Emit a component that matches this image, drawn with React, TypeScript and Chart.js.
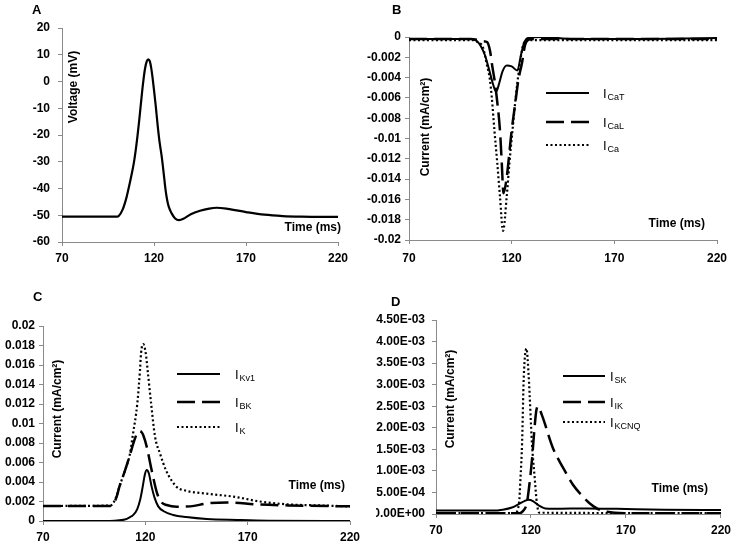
import React, { useEffect, useRef } from "react";
import { Chart, registerables } from "chart.js";

Chart.register(...registerables);

const FONT = '"Liberation Sans", Arial, Helvetica, sans-serif';
const PAGE_W = 736;
const PAGE_H = 544;

// ---------------- data ----------------
// shared time axis
const xMin = 70;
const xMax = 220;
const xStep = 50;

// Panel A: membrane voltage (mV)
const timeV = [70, 100, 100.8, 103, 105, 106, 107, 108, 109, 110, 111, 112, 113, 114, 115, 116, 116.9, 117.7, 118.5, 119.3, 120, 121, 122, 123, 124.2, 125.3, 126.3, 127.2, 128, 129.6, 131.5, 133.6, 136, 140, 145, 150, 154, 160, 170, 180, 190, 200, 220];
const voltage = [-50.5, -50.5, -50.3, -47.8, -43.5, -40.6, -37.5, -34.2, -30.6, -26, -20.5, -14.3, -7.5, -1, 4.3, 7.4, 8.3, 7.6, 5, 1, -3.2, -9.5, -16.5, -22.5, -28.1, -34.5, -40.6, -44.5, -46.8, -49.3, -51.2, -51.8, -51.3, -49.6, -48.3, -47.5, -47.2, -47.6, -48.8, -49.8, -50.3, -50.5, -50.6];

// Panel B: calcium currents (mA/cm2)
const timeCaT = [70, 100, 103, 105, 107, 109, 111, 112.4, 114, 115.5, 117.6, 120, 122.8, 124.5, 126, 128, 135, 150, 170, 220];
const iCaT = [-0.0002, -0.0002, -0.0004, -0.0009, -0.0018, -0.0032, -0.0047, -0.0054, -0.0045, -0.0034, -0.0028, -0.0029, -0.0033, -0.0018, -0.0006, -0.0001, 0, -0.0002, -0.0002, -0.0001];
const timeCaL = [70, 100, 104, 106, 108, 109.5, 110.5, 112, 112.7, 114.3, 115.2, 116, 117.6, 120, 121.7, 123.3, 125, 126.5, 128, 130, 220];
const iCaL = [-0.0002, -0.0002, -0.0003, -0.0004, -0.0005, -0.0014, -0.0028, -0.0047, -0.0059, -0.0092, -0.0125, -0.0154, -0.0138, -0.0092, -0.0066, -0.0042, -0.0026, -0.0008, -0.0003, -0.0002, -0.0002];
const timeCa = [70, 101.4, 104, 105.9, 107.8, 109.4, 110.3, 111.6, 113, 114.3, 115.8, 117.6, 118.9, 120.4, 122, 124, 125.4, 127.3, 220];
const iCa = [-0.0003, -0.0003, -0.0006, -0.00095, -0.0026, -0.0042, -0.0059, -0.0092, -0.01245, -0.0157, -0.0191, -0.0157, -0.01245, -0.0092, -0.0059, -0.0026, -0.00095, -0.0003, -0.0003];

// Panel C: potassium currents (mA/cm2)
const timeKv1 = [70, 100, 105, 110, 112.5, 114, 116, 117.5, 118.7, 119.8, 120.7, 121.7, 123.1, 124.5, 126.3, 129, 133.6, 140, 150, 165, 180, 220];
const iKv1 = [0, 0, 0.00003, 0.00015, 0.0004, 0.0006, 0.0012, 0.0022, 0.0035, 0.0048, 0.00523, 0.0049, 0.0035, 0.0024, 0.0015, 0.001, 0.00062, 0.0004, 0.0002, 0.0001, 0.00003, 0];
const timeBK = [70, 103, 104.5, 106, 107.3, 110.1, 112.5, 114.5, 116, 117, 118.2, 119, 120.7, 123.1, 125.8, 128, 130.4, 135.3, 142, 150, 160, 175, 190, 220];
const iBK = [0.00154, 0.00155, 0.0018, 0.0025, 0.0035, 0.0052, 0.0068, 0.0082, 0.009, 0.00923, 0.0091, 0.0088, 0.0076, 0.0052, 0.0028, 0.0019, 0.00164, 0.00147, 0.0015, 0.0018, 0.0019, 0.0017, 0.0016, 0.0015];
const timeK = [70, 103, 104.5, 106, 107.3, 110.1, 112.5, 113.8, 116.1, 117.4, 117.9, 119, 120.2, 121.1, 122.8, 124.7, 127.2, 130.1, 135.3, 140, 150, 163, 176, 190, 205, 220];
const iK = [0.00154, 0.00158, 0.0019, 0.0026, 0.0035, 0.0052, 0.0069, 0.0087, 0.0121, 0.0155, 0.0172, 0.01815, 0.0172, 0.0155, 0.0121, 0.0087, 0.0069, 0.0052, 0.0035, 0.0031, 0.0028, 0.0025, 0.002, 0.0017, 0.0016, 0.0015];

// Panel D: other potassium currents (mA/cm2)
const timeSK = [70, 100, 105, 110, 114, 116.5, 118.8, 121, 124, 127.5, 132, 150, 165, 190, 220];
const iSK = [0.00008, 0.00008, 0.0001, 0.00015, 0.00024, 0.0003, 0.00033, 0.0003, 0.0002, 0.00013, 0.00012, 0.00013, 0.00012, 0.0001, 0.00009];
const timeIK = [70, 114, 116, 117.8, 119.2, 120.5, 121.9, 122.8, 123.6, 125.7, 128, 130, 131.8, 135, 137.8, 142.1, 146.5, 150.8, 155.1, 160, 170, 220];
const iIK = [0.00002, 0.00002, 0.00008, 0.00025, 0.0007, 0.00125, 0.00202, 0.0024, 0.0025, 0.0023, 0.002, 0.00172, 0.0015, 0.00122, 0.001, 0.00068, 0.00044, 0.00025, 0.00012, 0.00005, 0.00002, 0.00002];
const timeKCNQ = [70, 111.5, 113.7, 114.5, 115.3, 116.2, 117.6, 118.8, 120.5, 121.9, 123.1, 124.3, 220];
const iKCNQ = [0.00002, 0.00002, 0.00025, 0.00086, 0.00164, 0.00318, 0.00384, 0.00318, 0.00164, 0.00086, 0.00025, 0.00003, 0.00002];

// y-axis ranges [min, max, step]
const yRangeA = [-60, 20, 10];
const yRangeB = [-0.02, 0, 0.002];
const yRangeC = [0, 0.02, 0.002];
const yRangeD = [0, 0.0045, 0.0005];

// ---------------- helpers ----------------
const plainFmt = (v: number) => String(parseFloat(Number(v).toFixed(5)));
const sciFmt = (v: number) => {
  if (Math.abs(v) < 1e-12) return "0.00E+00";
  const [m, e] = Number(v).toExponential(2).split("e");
  const n = parseInt(e, 10);
  return m + "E" + (n < 0 ? "-" : "+") + String(Math.abs(n)).padStart(2, "0");
};

type Series = { main: string; sub: string; t: number[]; v: number[]; dash: number[]; width: number };
type PanelSpec = {
  letter: string;
  letterPos: [number, number];
  area: { left: number; top: number; right: number; bottom: number };
  yRange: number[];
  yFmt: (v: number) => string;
  yPad: number;
  xPad: number;
  yW: number;
  xH: number;
  yTitle: string;
  yTitlePos: [number, number];
  xTitlePos: [number, number];
  series: Series[];
  legend?: { x0: number; x1: number; labelX: number; rows: number[] };
};

const SOLID: number[] = [];
const DASH = [18, 7];
const DOT = [2, 2.5];

const specs: PanelSpec[] = [
  {
    letter: "A",
    letterPos: [32, 14],
    area: { left: 62, top: 28, right: 338, bottom: 242 },
    yRange: yRangeA,
    yFmt: plainFmt,
    yPad: 8,
    xPad: 5,
    yW: 50,
    xH: 30,
    yTitle: "Voltage (mV)",
    yTitlePos: [74, 87],
    xTitlePos: [341, 228],
    series: [{ main: "V", sub: "", t: timeV, v: voltage, dash: SOLID, width: 2.2 }],
  },
  {
    letter: "B",
    letterPos: [392, 14],
    area: { left: 409, top: 37, right: 717, bottom: 240 },
    yRange: yRangeB,
    yFmt: plainFmt,
    yPad: 4,
    xPad: 7,
    yW: 60,
    xH: 30,
    yTitle: "Current (mA/cm\u00B2)",
    yTitlePos: [426, 127],
    xTitlePos: [705, 224],
    series: [
      { main: "I", sub: "CaT", t: timeCaT, v: iCaT, dash: SOLID, width: 2 },
      { main: "I", sub: "CaL", t: timeCaL, v: iCaL, dash: DASH, width: 2.5 },
      { main: "I", sub: "Ca", t: timeCa, v: iCa, dash: DOT, width: 2.2 },
    ],
    legend: { x0: 546, x1: 589, labelX: 603, rows: [93, 122, 145] },
  },
  {
    letter: "C",
    letterPos: [33, 301],
    area: { left: 43, top: 326, right: 350, bottom: 521 },
    yRange: yRangeC,
    yFmt: plainFmt,
    yPad: 4,
    xPad: 5,
    yW: 43,
    xH: 20,
    yTitle: "Current (mA/cm\u00B2)",
    yTitlePos: [58, 409],
    xTitlePos: [345, 486],
    series: [
      { main: "I", sub: "Kv1", t: timeKv1, v: iKv1, dash: SOLID, width: 2 },
      { main: "I", sub: "BK", t: timeBK, v: iBK, dash: DASH, width: 2.5 },
      { main: "I", sub: "K", t: timeK, v: iK, dash: DOT, width: 2.2 },
    ],
    legend: { x0: 177, x1: 220, labelX: 235, rows: [374, 402, 427] },
  },
  {
    letter: "D",
    letterPos: [391, 306],
    area: { left: 436, top: 320, right: 725, bottom: 514 },
    yRange: yRangeD,
    yFmt: sciFmt,
    yPad: 7,
    xPad: 5,
    yW: 60,
    xH: 20,
    yTitle: "Current (mA/cm\u00B2)",
    yTitlePos: [451, 399],
    xTitlePos: [708, 489],
    series: [
      { main: "I", sub: "SK", t: timeSK, v: iSK, dash: SOLID, width: 2 },
      { main: "I", sub: "IK", t: timeIK, v: iIK, dash: DASH, width: 2.5 },
      { main: "I", sub: "KCNQ", t: timeKCNQ, v: iKCNQ, dash: DOT, width: 2.2 },
    ],
    legend: { x0: 563, x1: 605, labelX: 610, rows: [376, 402, 422] },
  },
];

const AXIS_COLOR = "#8a8a8a";

const annotPlugin = (p: PanelSpec) => ({
  id: "annot" + p.letter,
  afterDraw(chart: any) {
    const ctx: CanvasRenderingContext2D = chart.ctx;
    ctx.save();
    ctx.fillStyle = "#000";
    // panel letter
    ctx.font = `bold 13px ${FONT}`;
    ctx.textAlign = "left";
    ctx.textBaseline = "alphabetic";
    ctx.fillText(p.letter, p.letterPos[0], p.letterPos[1]);
    // x title
    ctx.font = `bold 12px ${FONT}`;
    ctx.textAlign = "right";
    ctx.textBaseline = "middle";
    ctx.fillText("Time (ms)", p.xTitlePos[0], p.xTitlePos[1]);
    // y title
    ctx.save();
    ctx.translate(p.yTitlePos[0], p.yTitlePos[1]);
    ctx.rotate(-Math.PI / 2);
    ctx.textAlign = "center";
    ctx.textBaseline = "middle";
    ctx.fillText(p.yTitle, 0, 0);
    ctx.restore();
    // legend
    if (p.legend) {
      const lg = p.legend;
      p.series.forEach((s, i) => {
        const y = lg.rows[i];
        ctx.beginPath();
        ctx.setLineDash(s.dash);
        ctx.lineWidth = s.width;
        ctx.strokeStyle = "#000";
        ctx.moveTo(lg.x0, y);
        ctx.lineTo(lg.x1, y);
        ctx.stroke();
        ctx.setLineDash([]);
        ctx.textAlign = "left";
        ctx.textBaseline = "alphabetic";
        ctx.font = `13px ${FONT}`;
        ctx.fillText(s.main, lg.labelX, y + 5);
        const w = ctx.measureText(s.main).width;
        ctx.font = `9px ${FONT}`;
        ctx.fillText(s.sub, lg.labelX + w + 1, y + 7);
      });
    }
    ctx.restore();
  },
});

const makeConfig = (p: PanelSpec): any => {
  const tickFont = { family: FONT, size: 12, weight: "bold" as const };
  return {
    type: "line",
    data: {
      datasets: p.series.map((s) => ({
        label: s.main + s.sub,
        data: s.t.map((t, i) => ({ x: t, y: s.v[i] })),
        borderColor: "#000",
        backgroundColor: "#000",
        borderWidth: s.width,
        borderDash: s.dash,
        borderCapStyle: "butt",
        pointRadius: 0,
        fill: false,
        cubicInterpolationMode: "monotone",
      })),
    },
    options: {
      animation: false,
      responsive: false,
      events: [],
      layout: {
        padding: {
          left: p.area.left - p.yW,
          top: p.area.top,
          right: PAGE_W - p.area.right,
          bottom: PAGE_H - p.area.bottom - p.xH,
        },
      },
      plugins: { legend: { display: false }, tooltip: { enabled: false }, title: { display: false } },
      scales: {
        x: {
          type: "linear",
          min: xMin,
          max: xMax,
          afterFit: (s: any) => {
            s.height = p.xH;
          },
          ticks: { stepSize: xStep, color: "#000", font: tickFont, padding: p.xPad, maxRotation: 0, autoSkip: false },
          grid: { drawOnChartArea: false, drawTicks: true, tickLength: 4, color: AXIS_COLOR },
          border: { display: true, color: AXIS_COLOR, width: 1 },
        },
        y: {
          type: "linear",
          min: p.yRange[0],
          max: p.yRange[1],
          afterFit: (s: any) => {
            s.width = p.yW;
          },
          ticks: {
            stepSize: p.yRange[2],
            color: "#000",
            font: tickFont,
            padding: p.yPad,
            autoSkip: false,
            callback: (v: any) => p.yFmt(Number(v)),
          },
          grid: { drawOnChartArea: false, drawTicks: true, tickLength: 4, color: AXIS_COLOR },
          border: { display: true, color: AXIS_COLOR, width: 1 },
        },
      },
    },
    plugins: [annotPlugin(p)],
  };
};

function Panel({ spec }: { spec: PanelSpec }) {
  const ref = useRef<HTMLCanvasElement>(null);
  useEffect(() => {
    if (!ref.current) return;
    const chart = new Chart(ref.current, makeConfig(spec));
    return () => chart.destroy();
  }, [spec]);
  return (
    <canvas
      ref={ref}
      width={PAGE_W}
      height={PAGE_H}
      style={{ position: "absolute", left: 0, top: 0, width: PAGE_W, height: PAGE_H }}
    />
  );
}

export default function App() {
  return (
    <div
      style={{
        position: "fixed",
        left: 0,
        top: 0,
        width: PAGE_W,
        height: PAGE_H,
        background: "#fff",
        overflow: "hidden",
      }}
    >
      {specs.map((s) => (
        <Panel key={s.letter} spec={s} />
      ))}
    </div>
  );
}
